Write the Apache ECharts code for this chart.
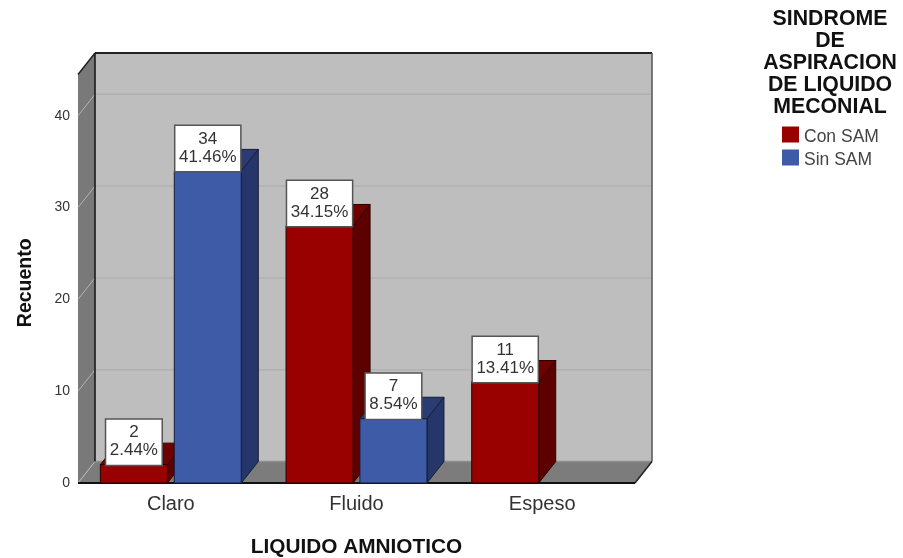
<!DOCTYPE html>
<html>
<head>
<meta charset="utf-8">
<style>html,body{margin:0;padding:0;background:#fff}#c{width:903px;height:558px}</style>
<script src="https://cdn.jsdelivr.net/npm/echarts@6/dist/echarts.min.js"></script>
</head>
<body>
<div id="c"></div>
<script>
const categories = ['Claro', 'Fluido', 'Espeso'];
const conSam = [2, 28, 11];
const sinSam = [34, 7, null];
const conPct = ['2.44%', '34.15%', '13.41%'];
const sinPct = ['41.46%', '8.54%', null];
const gridTicks = [0, 10, 20, 30, 40];
const legendTitle = 'SINDROME\nDE\nASPIRACION\nDE LIQUIDO\nMECONIAL';

const FONT = '"Liberation Sans", Arial, sans-serif';
const DX = 17, DY = -21.5;          // 3D depth offset in pixels
const BAR_FRAC = 0.361, OFF_FRAC = 0.199;

const chart = echarts.init(document.getElementById('c'), null, {renderer: 'canvas'});

function poly(points, fill, stroke, lw, z2) {
  return {type: 'polygon', shape: {points}, z2: z2 || 0,
    style: {fill, stroke: stroke || 'none', lineWidth: lw || 0}};
}
function line(x1, y1, x2, y2, stroke, lw, z2) {
  return {type: 'line', shape: {x1, y1, x2, y2}, z2: z2 || 1,
    style: {stroke, lineWidth: lw, fill: 'none'}};
}

function renderWalls(params, api) {
  const c = params.coordSys;
  const L = c.x, R = c.x + c.width, T = c.y, B = c.y + c.height;
  const kids = [
    poly([[L + DX, T + DY], [R + DX, T + DY], [R + DX, B + DY], [L + DX, B + DY]], '#bebebe'),
    poly([[L, T], [L + DX, T + DY], [L + DX, B + DY], [L, B]], '#797979'),
    poly([[L, B], [L + DX, B + DY], [R + DX, B + DY], [R, B]], '#7c7c7c')
  ];
  gridTicks.slice(1).forEach(function (t) {
    const y = api.coord([0, t])[1];
    kids.push(line(L + DX, y + DY, R + DX, y + DY, '#b0b0b0', 1.5));
    kids.push(line(L, y, L + DX, y + DY, '#b4b4b4', 1));
  });
  kids.push(line(L + DX, B + DY, R + DX, B + DY, '#8e8e8e', 1.5));
  kids.push(line(L + DX, T + DY, R + DX, T + DY, '#222', 2, 2));
  kids.push(line(L + DX, T + DY, L + DX, B + DY, '#111', 1.5, 2));
  kids.push(line(L, T, L + DX, T + DY, '#222', 1.5, 2));
  kids.push(line(L, B, L + DX, B + DY, '#bbb', 1, 2));
  kids.push(line(R + DX, T + DY, R + DX, B + DY, '#555', 1.5, 2));
  kids.push(line(R, B, R + DX, B + DY, '#222', 1.5, 2));
  kids.push(line(L, B, R, B, '#111', 2, 2));
  return {type: 'group', children: kids};
}

function bar3d(sign, front, side, top, edge) {
  return function (params, api) {
    const i = api.value(0), v = api.value(1), pct = api.value(2);
    const base = api.coord([i, 0]), tip = api.coord([i, v]);
    const band = api.size([1, 0])[0];
    const w = band * BAR_FRAC, cx = base[0] + sign * band * OFF_FRAC;
    const x0 = cx - w / 2, x1 = cx + w / 2, yB = base[1], yT = tip[1];
    return {type: 'group', children: [
      poly([[x1, yT], [x1 + DX, yT + DY], [x1 + DX, yB + DY], [x1, yB]], side, edge, 1, 3),
      poly([[x0, yT], [x0 + DX, yT + DY], [x1 + DX, yT + DY], [x1, yT]], top, edge, 1, 3),
      poly([[x0, yT], [x1, yT], [x1, yB], [x0, yB]], front, edge, 1, 3),
      {type: 'text', z2: 50, x: cx, y: yT,
        style: {
          text: api.value(1) + '\n' + pct, font: '17px ' + FONT, fill: '#333',
          align: 'center', verticalAlign: 'bottom', lineHeight: 18,
          backgroundColor: '#fff', borderColor: '#555', borderWidth: 1.5,
          padding: [4, 3.5, 5, 3.5]
        }}
    ]};
  };
}

function rows(vals, pcts) {
  const out = [];
  vals.forEach(function (v, i) { if (v !== null) out.push([i, v, pcts[i]]); });
  return out;
}

chart.setOption({
  animation: false,
  backgroundColor: '#fff',
  title: {
    text: legendTitle, left: 830, top: 8.5, padding: 0, textAlign: 'center',
    textStyle: {fontFamily: FONT, fontSize: 21.3, fontWeight: 'bold', lineHeight: 21.9, color: '#111'}
  },
  legend: {
    data: ['Con SAM', 'Sin SAM'], orient: 'vertical', left: 782, top: 123.5,
    itemWidth: 17, itemHeight: 16, itemGap: 0, padding: 0, icon: 'rect',
    selectedMode: false,
    formatter: '{t|{name}}',
    textStyle: {rich: {t: {fontFamily: FONT, fontSize: 17.5, color: '#444', height: 16, lineHeight: 22, padding: [6, 0, 0, 0]}}}
  },
  grid: {left: 78, right: 268, top: 74.5, bottom: 75, outerBoundsMode: 'none'},
  xAxis: {
    type: 'category', data: categories,
    name: 'LIQUIDO AMNIOTICO', nameLocation: 'middle', nameGap: 54,
    nameTextStyle: {fontFamily: FONT, fontSize: 20.8, fontWeight: 'bold', color: '#111'},
    axisLine: {show: false}, axisTick: {show: false},
    axisLabel: {fontFamily: FONT, fontSize: 20, color: '#333', margin: 11}
  },
  yAxis: {
    type: 'value', min: 0, max: 44.5, interval: 10,
    name: 'Recuento', nameLocation: 'middle', nameGap: 42,
    nameTextStyle: {fontFamily: FONT, fontSize: 19.5, fontWeight: 'bold', color: '#111', padding: [0, 8, 0, 0]},
    axisLine: {show: false}, axisTick: {show: false}, splitLine: {show: false},
    axisLabel: {fontFamily: FONT, fontSize: 14, color: '#333', margin: 8, showMaxLabel: false}
  },
  series: [
    {type: 'custom', name: 'walls', coordinateSystem: 'cartesian2d', silent: true,
      data: [[0, 0]], encode: {x: 0, y: 1}, renderItem: renderWalls, clip: false},
    {type: 'custom', name: 'Con SAM', coordinateSystem: 'cartesian2d',
      itemStyle: {color: '#990000'}, encode: {x: 0, y: 1}, clip: false,
      data: rows(conSam, conPct),
      renderItem: bar3d(-1, '#990000', '#5c0000', '#6e0000', '#2a0000')},
    {type: 'custom', name: 'Sin SAM', coordinateSystem: 'cartesian2d',
      itemStyle: {color: '#3e5ba8'}, encode: {x: 0, y: 1}, clip: false,
      data: rows(sinSam, sinPct),
      renderItem: bar3d(1, '#3e5ba8', '#26366b', '#2a3c72', '#141c38')}
  ]
});
</script>
</body>
</html>
